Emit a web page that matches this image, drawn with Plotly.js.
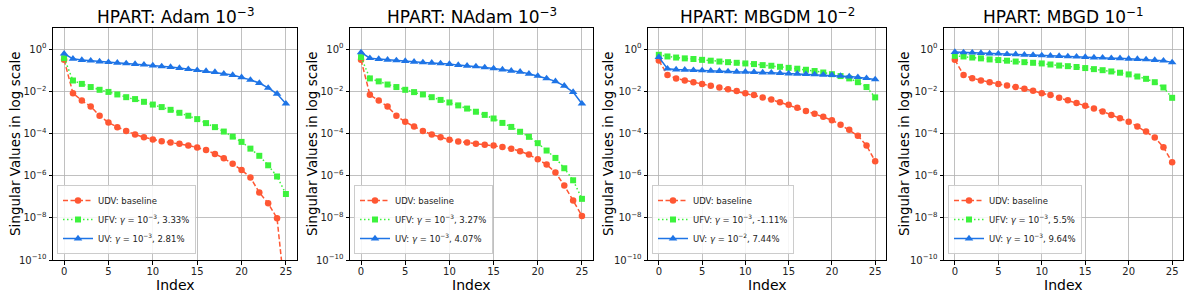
<!DOCTYPE html>
<html><head><meta charset="utf-8">
<script src="https://cdn.plot.ly/plotly-3.0.1.min.js"></script>
<style>html,body{margin:0;padding:0;background:#fff}#chart{width:1196px;height:299px}</style>
</head><body><div id="chart"></div>
<script>
// Index of singular value
const indexValues = [0,1,2,3,4,5,6,7,8,9,10,11,12,13,14,15,16,17,18,19,20,21,22,23,24,25];

// Panel titles
const panelTitles = [
  'HPART: Adam 10<sup>−3</sup>',
  'HPART: NAdam 10<sup>−3</sup>',
  'HPART: MBGDM 10<sup>−2</sup>',
  'HPART: MBGD 10<sup>−1</sup>'
];

// Legend labels per panel: [UDV, UFV, UV]
const legendLabels = [
  ['UDV: baseline', 'UFV: <i>γ</i> = 10<sup>−3</sup>, 3.33%', 'UV: <i>γ</i> = 10<sup>−3</sup>, 2.81%'],
  ['UDV: baseline', 'UFV: <i>γ</i> = 10<sup>−3</sup>, 3.27%', 'UV: <i>γ</i> = 10<sup>−3</sup>, 4.07%'],
  ['UDV: baseline', 'UFV: <i>γ</i> = 10<sup>−3</sup>, -1.11%', 'UV: <i>γ</i> = 10<sup>−2</sup>, 7.44%'],
  ['UDV: baseline', 'UFV: <i>γ</i> = 10<sup>−3</sup>, 5.5%', 'UV: <i>γ</i> = 10<sup>−3</sup>, 9.64%']
];

// Singular values, stored as log10 exponents
const adamUDV  = [-0.51,-2.09,-2.44,-2.72,-3.16,-3.48,-3.70,-3.88,-4.05,-4.18,-4.29,-4.37,-4.43,-4.49,-4.57,-4.67,-4.79,-4.97,-5.17,-5.44,-5.73,-6.09,-6.80,-7.31,-8.02,-12.0];
const adamUFV  = [-0.43,-1.49,-1.65,-1.80,-1.93,-2.03,-2.15,-2.28,-2.37,-2.50,-2.63,-2.75,-2.88,-3.02,-3.16,-3.32,-3.51,-3.70,-3.91,-4.15,-4.40,-4.72,-5.06,-5.51,-6.04,-6.87];
const adamUV   = [-0.22,-0.46,-0.52,-0.55,-0.59,-0.62,-0.65,-0.68,-0.71,-0.74,-0.78,-0.82,-0.85,-0.90,-0.95,-1.00,-1.04,-1.09,-1.17,-1.23,-1.34,-1.46,-1.61,-1.84,-2.12,-2.59];

const nadamUDV = [-0.51,-2.17,-2.44,-2.72,-3.16,-3.45,-3.67,-3.88,-4.05,-4.18,-4.30,-4.38,-4.43,-4.49,-4.53,-4.57,-4.64,-4.73,-4.84,-5.00,-5.22,-5.47,-5.85,-6.47,-7.18,-7.91];
const nadamUFV = [-0.38,-1.39,-1.53,-1.68,-1.80,-1.93,-2.04,-2.15,-2.28,-2.41,-2.53,-2.67,-2.82,-2.97,-3.12,-3.29,-3.50,-3.69,-3.92,-4.16,-4.46,-4.81,-5.16,-5.65,-6.22,-7.10];
const nadamUV  = [-0.16,-0.43,-0.47,-0.51,-0.54,-0.57,-0.60,-0.63,-0.65,-0.68,-0.71,-0.76,-0.79,-0.82,-0.87,-0.92,-0.97,-1.03,-1.08,-1.17,-1.27,-1.39,-1.53,-1.74,-2.04,-2.59];

const mbgdmUDV = [-0.54,-1.23,-1.39,-1.49,-1.57,-1.65,-1.74,-1.82,-1.90,-1.99,-2.09,-2.18,-2.29,-2.39,-2.52,-2.64,-2.78,-2.93,-3.07,-3.21,-3.37,-3.59,-3.83,-4.11,-4.57,-5.32];
const mbgdmUFV = [-0.27,-0.35,-0.40,-0.44,-0.47,-0.51,-0.55,-0.59,-0.62,-0.65,-0.68,-0.71,-0.76,-0.79,-0.84,-0.89,-0.93,-0.98,-1.04,-1.11,-1.19,-1.28,-1.39,-1.57,-1.80,-2.29];
const mbgdmUV  = [-0.38,-0.93,-0.97,-0.98,-1.00,-1.01,-1.03,-1.04,-1.06,-1.08,-1.08,-1.09,-1.11,-1.12,-1.14,-1.16,-1.17,-1.19,-1.20,-1.22,-1.23,-1.27,-1.30,-1.33,-1.38,-1.44];

const mbgdUDV  = [-0.51,-1.23,-1.38,-1.49,-1.57,-1.65,-1.73,-1.80,-1.88,-1.98,-2.09,-2.18,-2.31,-2.42,-2.56,-2.69,-2.82,-2.96,-3.12,-3.28,-3.45,-3.67,-3.91,-4.19,-4.65,-5.36];
const mbgdUFV  = [-0.32,-0.35,-0.40,-0.44,-0.49,-0.52,-0.55,-0.59,-0.62,-0.65,-0.68,-0.73,-0.78,-0.81,-0.85,-0.90,-0.95,-1.00,-1.06,-1.12,-1.20,-1.30,-1.41,-1.57,-1.82,-2.31];
const mbgdUV   = [-0.14,-0.16,-0.17,-0.19,-0.21,-0.22,-0.24,-0.25,-0.27,-0.28,-0.30,-0.32,-0.33,-0.35,-0.36,-0.38,-0.40,-0.41,-0.43,-0.44,-0.46,-0.47,-0.49,-0.52,-0.55,-0.63];

const panelSeries = [
  [adamUDV, adamUFV, adamUV],
  [nadamUDV, nadamUFV, nadamUV],
  [mbgdmUDV, mbgdmUFV, mbgdmUV],
  [mbgdUDV, mbgdUFV, mbgdUV]
];

// Y tick labels
const yTickVals = [1e-10, 1e-8, 1e-6, 1e-4, 1e-2, 1];
const yTickText = ['10<sup>−10</sup>','10<sup>−8</sup>','10<sup>−6</sup>','10<sup>−4</sup>','10<sup>−2</sup>','10<sup>0</sup>'];
const xTickVals = [0,5,10,15,20,25];

// ---- styling / layout ----
const W = 1196, H = 299;
const FONT = 'DejaVu Sans, sans-serif';
const styles = [
  {color:'#FF5733', symbol:'circle', size:6.5, dash:'5px,2.5px'},
  {color:'#3CF23C', symbol:'square', size:6, dash:'1.5px,2.5px'},
  {color:'#1E74E6', symbol:'triangle-up', size:7.5, dash:'solid'}
];
const plotLeftPx  = [53, 350, 648, 944];
const plotRightPx = [297, 593, 886, 1183];
const yTitleXPx   = [15, 312, 608, 904];
const plotTopPx = 28, plotBottomPx = 260;
const yDom = [1 - plotBottomPx / H, 1 - plotTopPx / H];

const traces = [];
const layout = {
  width: W, height: H,
  margin: {l:0, r:0, t:0, b:0},
  paper_bgcolor: '#fff', plot_bgcolor: '#fff',
  font: {family: FONT, color: '#000'},
  showlegend: true,
  annotations: []
};

for (let p = 0; p < 4; p++) {
  const sfx = p === 0 ? '' : String(p + 1);
  const legendName = p === 0 ? 'legend' : 'legend' + (p + 1);
  for (let s = 0; s < 3; s++) {
    const st = styles[s];
    traces.push({
      type: 'scatter', mode: 'lines+markers',
      x: indexValues,
      y: panelSeries[p][s].map(v => Math.pow(10, v)),
      name: legendLabels[p][s],
      xaxis: 'x' + sfx, yaxis: 'y' + sfx,
      legend: legendName,
      line: {color: st.color, width: 1.5, dash: st.dash},
      marker: {color: st.color, symbol: st.symbol, size: st.size, line: {width: 0}},
      cliponaxis: true
    });
  }
  const xDom = [plotLeftPx[p] / W, plotRightPx[p] / W];
  layout['xaxis' + sfx] = {
    domain: xDom, anchor: 'y' + sfx,
    range: [-1.25, 26.25],
    tickvals: xTickVals, ticktext: xTickVals.map(String),
    ticks: 'outside', ticklen: 3.5, tickwidth: 1, tickcolor: '#000',
    ticklabelstandoff: -2,
    tickfont: {size: 10, family: FONT, color: '#222'},
    showline: true, mirror: true, linecolor: '#000', linewidth: 1,
    showgrid: true, gridcolor: '#b0b0b0', gridwidth: 0.8,
    zeroline: false
  };
  layout['yaxis' + sfx] = {
    domain: yDom, anchor: 'x' + sfx,
    type: 'log', range: [-10, 1],
    tickvals: yTickVals, ticktext: yTickText,
    ticks: 'outside', ticklen: 3.5, tickwidth: 1, tickcolor: '#000',
    tickfont: {size: 10, family: FONT, color: '#222'},
    showline: true, mirror: true, linecolor: '#000', linewidth: 1,
    showgrid: true, gridcolor: '#b0b0b0', gridwidth: 0.8,
    zeroline: false
  };
  layout[legendName] = {
    x: (plotLeftPx[p] + 4) / W, y: 1 - 254 / H,
    xanchor: 'left', yanchor: 'bottom',
    xref: 'paper', yref: 'paper',
    bgcolor: 'rgba(255,255,255,0.85)', bordercolor: '#cccccc', borderwidth: 1,
    font: {size: 8.5, family: FONT, color: '#222'},
    itemwidth: 30, tracegroupgap: 0,
    traceorder: 'normal'
  };
  const cx = (plotLeftPx[p] + plotRightPx[p]) / 2 / W;
  layout.annotations.push({
    text: panelTitles[p], xref: 'paper', yref: 'paper',
    x: cx, y: 1 - 16 / H, xanchor: 'center', yanchor: 'middle',
    showarrow: false, font: {size: 17, family: FONT, color: '#000'}
  });
  layout.annotations.push({
    text: 'Index', xref: 'paper', yref: 'paper',
    x: cx, y: 1 - 285 / H, xanchor: 'center', yanchor: 'middle',
    showarrow: false, font: {size: 14, family: FONT, color: '#000'}
  });
  layout.annotations.push({
    text: 'Singular Values in log scale', xref: 'paper', yref: 'paper',
    x: yTitleXPx[p] / W, y: (yDom[0] + yDom[1]) / 2, xanchor: 'center', yanchor: 'middle',
    textangle: -90,
    showarrow: false, font: {size: 13.5, family: FONT, color: '#000'}
  });
}

Plotly.newPlot('chart', traces, layout, {staticPlot: true, displayModeBar: false});
</script>
</body></html>
